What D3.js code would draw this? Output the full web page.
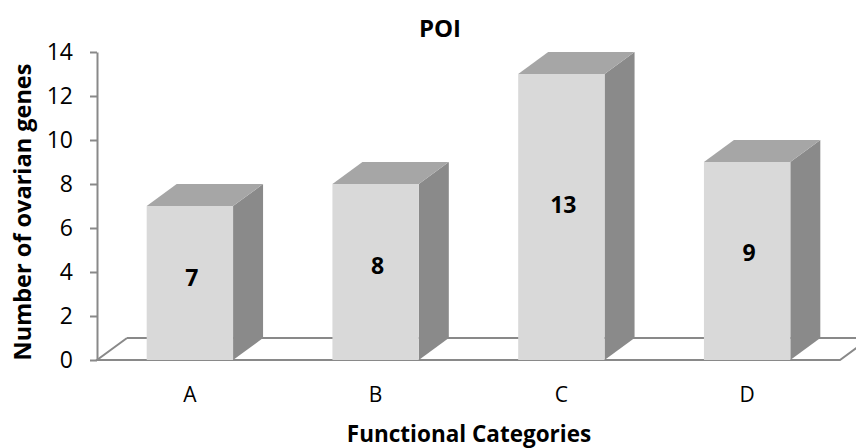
<!DOCTYPE html>
<html>
<head>
<meta charset="utf-8">
<script src="https://cdn.jsdelivr.net/npm/d3@7"></script>
<style>
  html, body { margin: 0; padding: 0; background: #fff; }
  svg { display: block; font-family: "Open Sans", "Liberation Sans", sans-serif; }
</style>
</head>
<body>
<svg id="chart" width="856" height="448"></svg>
<script>
// Functional categories and gene counts
const categories = ["A", "B", "C", "D"];
const geneCounts = [7, 8, 13, 9];
const yTicks = [0, 2, 4, 6, 8, 10, 12, 14];
const chartTitle = "POI";
const xTitle = "Functional Categories";
const yTitle = "Number of ovarian genes";

const svg = d3.select("#chart");

// plot frame
const plotLeft = 97, plotRight = 840, plotTop = 52, plotBottom = 360;
const depthX = 30, depthY = -22;   // oblique offset for the 3D look

const x = d3.scaleBand()
  .domain(categories)
  .range([plotLeft, plotRight])
  .paddingInner(0.535)
  .paddingOuter(0.2675);

const y = d3.scaleLinear().domain([0, 14]).range([plotBottom, plotTop]);

const lineColor = "#898989";
const frontFill = "#d9d9d9";
const topFill = "#a6a6a6";
const sideFill = "#8a8a8a";

// floor outline
const y0 = y(0);
const floor = svg.append("g")
  .attr("fill", "none")
  .attr("stroke", lineColor)
  .attr("stroke-width", 2);
floor.append("path")
  .attr("d", d3.line()([
    [plotLeft + depthX, y0 + depthY], [plotLeft, y0], [plotRight, y0], [plotRight + depthX, y0 + depthY]
  ]));
floor.append("line")
  .attr("x1", plotLeft + depthX).attr("y1", y0 + depthY)
  .attr("x2", plotRight + depthX).attr("y2", y0 + depthY);

// bars
const bars = svg.append("g").selectAll("g")
  .data(categories.map((c, i) => ({ c, v: geneCounts[i] })))
  .join("g");

bars.append("polygon")
  .attr("fill", sideFill)
  .attr("points", d => {
    const x1 = x(d.c) + x.bandwidth(), yv = y(d.v);
    return [[x1, yv], [x1 + depthX, yv + depthY], [x1 + depthX, y0 + depthY], [x1, y0]].join(" ");
  });

bars.append("polygon")
  .attr("fill", topFill)
  .attr("points", d => {
    const x0 = x(d.c), x1 = x0 + x.bandwidth(), yv = y(d.v);
    return [[x0, yv], [x0 + depthX, yv + depthY], [x1 + depthX, yv + depthY], [x1, yv]].join(" ");
  });

bars.append("rect")
  .attr("fill", frontFill)
  .attr("x", d => x(d.c))
  .attr("y", d => y(d.v))
  .attr("width", x.bandwidth())
  .attr("height", d => y0 - y(d.v));

// value labels
bars.append("text")
  .attr("x", d => x(d.c) + x.bandwidth() / 2 + 2)
  .attr("y", d => y(d.v * 0.555) + 3)
  .attr("dy", "0.36em")
  .attr("text-anchor", "middle")
  .attr("font-weight", "bold")
  .attr("font-size", 23)
  .attr("fill", "#000")
  .text(d => d.v);

// value axis
const yAxis = svg.append("g")
  .attr("transform", `translate(${plotLeft},0)`)
  .call(d3.axisLeft(y).tickValues(yTicks).tickSize(7).tickSizeOuter(0).tickPadding(17));
yAxis.select(".domain").attr("stroke", lineColor).attr("stroke-width", 2);
yAxis.selectAll(".tick line").attr("stroke", lineColor).attr("stroke-width", 2);
yAxis.selectAll(".tick text")
  .attr("font-family", "'Open Sans', sans-serif")
  .attr("font-size", 23)
  .attr("fill", "#000");

// category labels
svg.append("g").selectAll("text")
  .data(categories)
  .join("text")
  .attr("x", d => x(d) + x.bandwidth() / 2)
  .attr("y", 402)
  .attr("text-anchor", "middle")
  .attr("font-size", 21)
  .attr("fill", "#000")
  .text(d => d);

// titles
svg.append("text")
  .attr("x", 440).attr("y", 37)
  .attr("text-anchor", "middle")
  .attr("font-weight", "bold")
  .attr("font-size", 24)
  .text(chartTitle);

svg.append("text")
  .attr("x", 469).attr("y", 442)
  .attr("text-anchor", "middle")
  .attr("font-weight", "bold")
  .attr("font-size", 22.5)
  .text(xTitle);

svg.append("text")
  .attr("transform", "translate(31,212) rotate(-90)")
  .attr("text-anchor", "middle")
  .attr("font-weight", "bold")
  .attr("font-size", 23.5)
  .text(yTitle);
</script>
</body>
</html>
